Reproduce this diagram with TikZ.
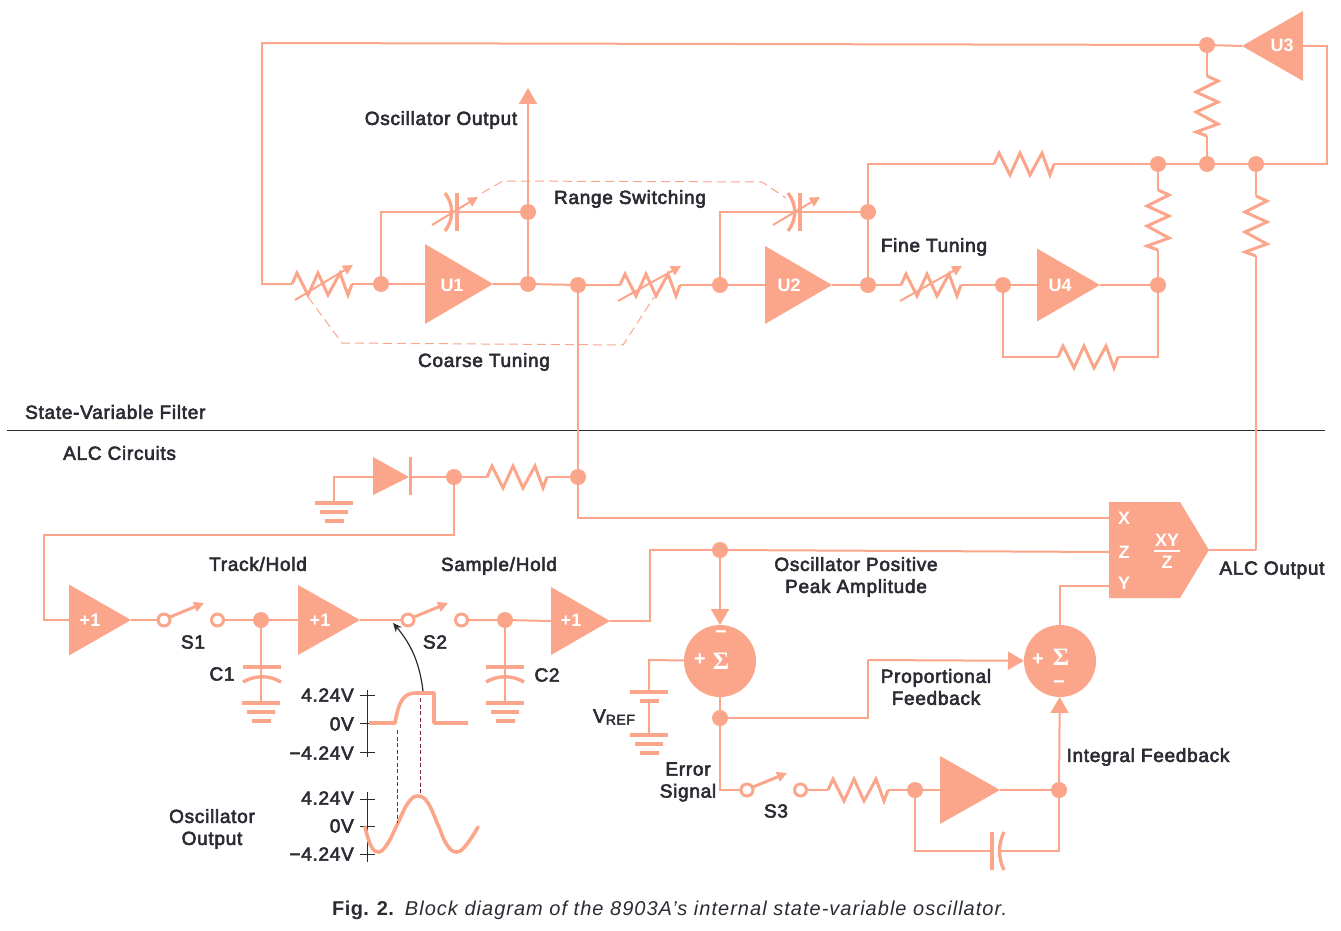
\documentclass[tikz,border=0pt]{standalone}
\usepackage{fontspec}
\setmainfont[FakeBold=3,LetterSpace=3.8]{Liberation Sans}
\newfontfamily\capreg[LetterSpace=5.1]{Liberation Sans}
\newfontfamily\capbold[LetterSpace=2]{Liberation Sans}
\newfontfamily\whitefont{Liberation Sans}
\newfontfamily\sigfont{Liberation Serif}
\usetikzlibrary{shapes.geometric,arrows.meta}
\definecolor{sal}{HTML}{FBA58B}
\definecolor{ink}{HTML}{2B2B33}
\definecolor{dashred}{HTML}{7A2A3A}
\tikzset{
  wire/.style={draw=sal,line width=2pt,line join=miter},
  thick wire/.style={draw=sal,line width=3pt,line join=miter},
  plate/.style={draw=sal,line width=3.4pt},
  ghost/.style={draw=sal,line width=1pt,dash pattern=on 9pt off 5pt},
  dotj/.style={circle,fill=sal,minimum size=16pt,inner sep=0pt,outer sep=0pt},
  ring/.style={circle,draw=sal,line width=3pt,fill=white,minimum size=12pt,inner sep=0pt,outer sep=0pt},
  amp/.style={isosceles triangle,isosceles triangle stretches,fill=sal,inner sep=0pt,outer sep=0pt,anchor=apex},
  sumj/.style={circle,fill=sal,minimum size=72pt,inner sep=0pt,outer sep=0pt},
  lbl/.style={text=ink,inner sep=0pt,font=\fontsize{19}{22}\selectfont,align=center},
  wlbl/.style={text=white,inner sep=0pt,font=\whitefont\bfseries\fontsize{18}{22}\selectfont},
  sumsym/.style={text=white,inner sep=0pt,font=\whitefont\bfseries\fontsize{20}{20}\selectfont},
  bigtip/.style={-{Triangle[length=16pt,width=18pt]}},
  smalltip/.style={-{Triangle[length=10pt,width=10pt]}}
}
% resistor: name, x, y, rotation
\newcommand{\zigR}[4]{%
  \draw[thick wire,shift={(#2,#3)},rotate=#4]
    (0,0) coordinate (#1-a) -- (5,-11) -- (16,11) -- (26,-11) -- (36,11) -- (48,-11) -- (56,11) -- (60,0) coordinate (#1-b);}
% variable resistor arrow
\newcommand{\varArrow}[3]{%
  \draw[wire,smalltip,shift={(#1,#2)}] (#3,16) -- (61,-19);}
% switch: name, x, y
\newcommand{\swt}[3]{%
  \node[ring] (#1-l) at (#2,#3) {};
  \node[ring] (#1-r) at ({#2+53.5},#3) {};
  \draw[thick wire,smalltip,shift={(#2,#3)}] (6,-3) -- (40,-17);}
% ground: x, y
\newcommand{\gnd}[2]{%
  \draw[plate] ({#1-19},#2) -- ({#1+19},#2);
  \draw[plate] ({#1-14},{#2+9}) -- ({#1+14},{#2+9});
  \draw[plate] ({#1-9.5},{#2+18}) -- ({#1+9.5},{#2+18});}
\begin{document}
\begin{tikzpicture}[x=1pt,y=-1pt]
\useasboundingbox (0,0) rectangle (1341,931);

% junctions
\node[dotj] (jt) at (1207,45) {};
\node[dotj] (j1) at (1158,164) {};
\node[dotj] (j2) at (1207,164) {};
\node[dotj] (j3) at (1256,164) {};
\node[dotj] (d1) at (381,284) {};
\node[dotj] (d2) at (528,284) {};
\node[dotj] (d3) at (578,285) {};
\node[dotj] (d2t) at (528,212) {};
\node[dotj] (d4) at (720,285) {};
\node[dotj] (d5) at (868,285) {};
\node[dotj] (d5t) at (868,212) {};
\node[dotj] (d6) at (1003,285) {};
\node[dotj] (d7) at (1158,285) {};
\node[dotj] (d8) at (578,477) {};
\node[dotj] (d9) at (454,477) {};
\node[dotj] (d10) at (261,620) {};
\node[dotj] (d11) at (505,620) {};
\node[dotj] (d12) at (720,550) {};
\node[dotj] (d13) at (720,718) {};
\node[dotj] (d14) at (915,790) {};
\node[dotj] (d15) at (1059,790) {};

% amplifiers
\node[amp,minimum height=61pt,minimum width=70pt,shape border rotate=180] (U3) at (1242,46) {};
\node[amp,minimum height=68pt,minimum width=80pt] (U1) at (493,284) {};
\node[amp,minimum height=67pt,minimum width=78pt] (U2) at (832,285) {};
\node[amp,minimum height=63pt,minimum width=73pt] (U4) at (1100,285) {};
\node[amp,minimum height=62pt,minimum width=71pt] (A1) at (131,620) {};
\node[amp,minimum height=62pt,minimum width=70pt] (A2) at (360,620) {};
\node[amp,minimum height=59pt,minimum width=68pt] (A3) at (610,621) {};
\node[amp,minimum height=60pt,minimum width=68pt] (A4) at (1000,790) {};
\node[wlbl] (tU1) at (452,285) {U1};
\node[wlbl] (tU2) at (789,285) {U2};
\node[wlbl] (tU3) at (1282,45) {U3};
\node[wlbl] (tU4) at (1060,285) {U4};
\node[wlbl] (tA1) at (90,620) {+1};
\node[wlbl] (tA2) at (320,620) {+1};
\node[wlbl] (tA3) at (571,620) {+1};

% summers
\node[sumj] (S1) at (720,661) {};
\node[sumj] (S2) at (1060,661) {};
\node[sumsym] (s1p) at (700,660) {+};
\node[sumsym] (s1s) at (721,661) {\sigfont\bfseries\fontsize{25}{25}\selectfont Σ};
\node[sumsym] (s1m) at (721,635) {−};
\node[sumsym] (s2p) at (1038,660) {+};
\node[sumsym] (s2s) at (1061,657) {\sigfont\bfseries\fontsize{25}{25}\selectfont Σ};
\node[sumsym] (s2m) at (1059,685) {−};

% multiplier
\fill[sal] (1109,502) coordinate (bTL) -- (1180,502) -- (1209,550) coordinate (bOut) -- (1180,598) -- (1109,598) -- cycle;
\coordinate (bX) at (1109,518);
\coordinate (bZ) at (1109,552);
\coordinate (bY) at (1109,586);
\node[wlbl] (tX) at (1124,518) {X};
\node[wlbl] (tZ) at (1124,552) {Z};
\node[wlbl] (tY) at (1124,583) {Y};
\node[wlbl] (tXY) at (1167,540) {XY};
\node[wlbl] (tZ2) at (1167,562) {Z};
\draw[white,line width=1.6pt] (1154,551) -- (1180,551);

% resistors
\zigR{Rv1}{292}{284}{0}
\zigR{Rv2}{620}{285}{0}
\zigR{Rv3}{901}{285}{0}
\varArrow{292}{284}{3}
\varArrow{620}{285}{-2}
\varArrow{901}{285}{-1}
\zigR{Rt}{994}{164}{0}
\zigR{Rf}{1058}{357}{0}
\zigR{Ra}{1207}{76}{-90}
\zigR{Rb}{1158}{190}{-90}
\zigR{Rc}{1256}{196}{-90}
\zigR{Rd}{487}{477}{0}
\zigR{Re}{828}{790}{0}

% capacitors in the filter
\draw[plate] (457,193) -- (457,231);
\draw[plate] (445,193) .. controls (454,205) and (454,219) .. (445,231);
\draw[wire,smalltip] (432,225) -- (478,197);
\draw[plate] (800,193) -- (800,231);
\draw[plate] (788,193) .. controls (797,205) and (797,219) .. (788,231);
\draw[wire,smalltip] (773,225) -- (820,197);

% top loop
\coordinate (c1) at (262,43);
\coordinate (c2) at (1327,46);
\coordinate (c3) at (868,164);
\draw[wire] (U3.apex) -- (jt) -- (c1) |- (Rv1-a);
\draw[wire] (U3.lower side) -- (c2) |- (j3);
\draw[wire] (j3) -- (j2) -- (j1) -- (Rt-b);
\draw[wire] (Rt-a) -- (c3) -- (d5t) -- (d5);
\draw[wire] (jt) -- (Ra-a);
\draw[wire] (Ra-b) -- (j2);
\draw[wire] (j1) -- (Rb-a);
\draw[wire] (Rb-b) -- (d7);
\draw[wire] (j3) -- (Rc-a);

% filter chain
\draw[wire] (Rv1-b) -- (d1) -- (U1.lower side);
\draw[wire] (U1.apex) -- (d2) -- (d3) -- (Rv2-a);
\draw[wire] (Rv2-b) -- (d4) -- (U2.lower side);
\draw[wire] (U2.apex) -- (d5) -- (Rv3-a);
\draw[wire] (Rv3-b) -- (d6) -- (U4.lower side);
\draw[wire] (U4.apex) -- (d7);
\draw[wire] (d1) |- (d2t);
\draw[wire] (d2) -- (d2t);
\draw[wire] (d4) |- (d5t);
\coordinate (c4) at (1003,357);
\coordinate (c5) at (1158,357);
\draw[wire] (d6) -- (c4) -- (Rf-a);
\draw[wire] (Rf-b) -- (c5) -- (d7);
\coordinate (outTip) at (528,88);
\draw[wire,bigtip] (d2t) -- (outTip);

% ganged controls
\draw[ghost] (482,193) -- (503,181) -- (762,182) -- (786,198);
\draw[ghost] (308,297) -- (342,343) -- (623,345) -- (654,297);

% divider
\coordinate (ruleL) at (7,430);
\coordinate (ruleR) at (1325,430);
\draw[ink,line width=1pt] (ruleL) -- (ruleR);

% ALC upper part
\draw[wire] (d3) -- (d8);
\draw[wire] (d8) |- (bX);
\draw[wire] (d8) -- (Rd-b);
\draw[wire] (Rd-a) -- (d9);
\coordinate (diodeA) at (373,477);
\coordinate (diodeK) at (410,477);
\coordinate (gnd0) at (334,477);
\coordinate (gnd0b) at (334,503);
\fill[sal] (373,457) -- (409,477) -- (373,495) -- cycle;
\draw[sal,line width=3pt] (410,457) -- (410,495);
\draw[wire] (gnd0b) -- (gnd0) -- (diodeA);
\draw[wire] (diodeK) -- (d9);
\gnd{334}{503}
\coordinate (c6) at (454,535);
\coordinate (c7) at (44,535);
\coordinate (c8) at (44,620);
\draw[wire] (d9) -- (c6) -- (c7) -- (c8) -- (A1.lower side);

% track / hold chain
\swt{sa}{164}{620}
\swt{sb}{408}{620}
\swt{sc}{747}{790}
\draw[wire] (A1.apex) -- (sa-l);
\draw[wire] (sa-r) -- (d10) -- (A2.lower side);
\draw[wire] (A2.apex) -- (sb-l);
\draw[wire] (sb-r) -- (d11) -- (A3.lower side);
\coordinate (c9) at (650,621);
\coordinate (c10) at (650,550);
\draw[wire] (A3.apex) -- (c9) -- (c10) -- (d12);
\draw[wire] (d12) -- (bZ);
\draw[wire,bigtip] (d12) -- (S1);

% hold capacitors
\coordinate (g1) at (261,703);
\coordinate (g2) at (505,703);
\draw[wire] (d10) -- (g1);
\draw[wire] (d11) -- (g2);
\draw[plate] (243,667) -- (281,667);
\draw[plate] (243,682) .. controls (255,675) and (269,675) .. (281,682);
\draw[plate] (486,667) -- (524,667);
\draw[plate] (486,682) .. controls (498,675) and (512,675) .. (524,682);
\gnd{261}{703}
\gnd{505}{703}

% reference
\coordinate (c11) at (649,660);
\coordinate (c12) at (649,692);
\coordinate (c13) at (649,701);
\coordinate (c14) at (649,735);
\draw[wire] (S1) -- (c11) -- (c12);
\draw[wire] (c13) -- (c14);
\draw[plate] (630,692) -- (668,692);
\draw[plate] (640,701) -- (659,701);
\gnd{649}{735}

% feedback paths
\draw[wire] (S1) -- (d13);
\coordinate (c15) at (868,718);
\coordinate (c16) at (868,660);
\draw[wire] (d13) -- (c15) -- (c16);
\draw[wire,bigtip] (c16) -- (S2);
\coordinate (c17) at (720,790);
\draw[wire] (d13) -- (c17) -- (sc-l);
\draw[wire] (sc-r) -- (Re-a);
\draw[wire] (Re-b) -- (d14) -- (A4.lower side);
\draw[wire] (A4.apex) -- (d15);
\draw[wire,bigtip] (d15) -- (S2);
\coordinate (c18) at (915,851);
\coordinate (c19) at (1059,851);
\draw[wire] (d14) -- (c18) -- (c19) -- (d15);
\fill[white] (993.5,845) rectangle (1001,857);
\draw[plate] (992,832) -- (992,870);
\draw[plate] (1004,832) .. controls (998,844) and (998,858) .. (1004,870);
\coordinate (c20) at (1060,586);
\draw[wire] (S2) -- (c20) -- (bY);
\coordinate (c21) at (1256,550);
\draw[wire] (bOut) -- (c21);
\draw[wire] (c21) -- (Rc-b);

% waveforms
\draw[ink,line width=1pt] (367,690) -- (367,757);
\draw[ink,line width=1pt] (360,695) -- (375,695);
\draw[ink,line width=1pt] (360,723) -- (375,723);
\draw[ink,line width=1pt] (360,752) -- (375,752);
\draw[ink,line width=1pt] (367,792) -- (367,862);
\draw[ink,line width=1pt] (360,799) -- (375,799);
\draw[ink,line width=1pt] (360,826) -- (375,826);
\draw[ink,line width=1pt] (360,854) -- (375,854);
\draw[sal,line width=3.6pt,line join=round] (369,723) -- (395,723) .. controls (399,700) and (404,693) .. (416,693) -- (434,693) -- (434,723) -- (468,723);
\draw[sal,line width=3.6pt,line cap=round] plot[smooth,tension=0.7] coordinates {(365,827) (371,846) (379,852) (388,843) (397,825) (408,803) (418,796) (428,803) (438,825) (447,845) (457,852) (467,844) (478,827)};
\draw[dashred,line width=1pt,dash pattern=on 4pt off 2.5pt] (397,730) -- (397,823);
\draw[dashred,line width=1pt,dash pattern=on 4pt off 2.5pt] (420,698) -- (420,794);
\coordinate (trigA) at (423,691);
\coordinate (trigB) at (393,623);
\draw[ink,line width=1.2pt,-{Stealth[length=9pt,width=8pt]}] (trigA) .. controls (420,665) and (412,645) .. (trigB);

% labels
\node[lbl] (l1) at (441,120) {Oscillator Output};
\node[lbl] (l2) at (630,199) {Range Switching};
\node[lbl] (l3) at (484,362) {Coarse Tuning};
\node[lbl] (l4) at (934,247) {Fine Tuning};
\node[lbl,anchor=west] (l5) at (25,412) {State-Variable Filter};
\node[lbl,anchor=west] (l6) at (63,453) {ALC Circuits};
\node[lbl] (l7) at (258,564) {Track/Hold};
\node[lbl] (l8) at (499,566) {Sample/Hold};
\node[lbl] (l9) at (856,577) {Oscillator Positive\\Peak Amplitude};
\node[lbl] (l10) at (1272,570) {ALC Output};
\node[lbl] (l11) at (936,687) {Proportional\\Feedback};
\node[lbl] (l12) at (1148,757) {Integral Feedback};
\node[lbl] (l13) at (688,782) {Error\\Signal};
\node[lbl] (l14) at (614,717) {V\raisebox{-2pt}{\fontsize{14}{14}\selectfont REF}};
\node[lbl] (l15) at (193,642) {S1};
\node[lbl] (l16) at (435,642) {S2};
\node[lbl] (l17) at (776,811) {S3};
\node[lbl] (l18) at (222,674) {C1};
\node[lbl] (l19) at (547,675) {C2};
\node[lbl] (l20) at (212,829) {Oscillator\\Output};
\node[lbl,anchor=east] (v1) at (354,695) {4.24V};
\node[lbl,anchor=east] (v2) at (354,724) {0V};
\node[lbl,anchor=east] (v3) at (354,753) {−4.24V};
\node[lbl,anchor=east] (v4) at (354,798) {4.24V};
\node[lbl,anchor=east] (v5) at (354,826) {0V};
\node[lbl,anchor=east] (v6) at (354,854) {−4.24V};
\node[text=ink,inner sep=0pt,anchor=west,font=\fontsize{20}{22}\selectfont] (cap) at (332,910) {{\capbold\bfseries Fig. 2.}\hspace{11pt}{\capreg\itshape Block diagram of the 8903A’s internal state-variable oscillator.}};
\end{tikzpicture}
\end{document}
